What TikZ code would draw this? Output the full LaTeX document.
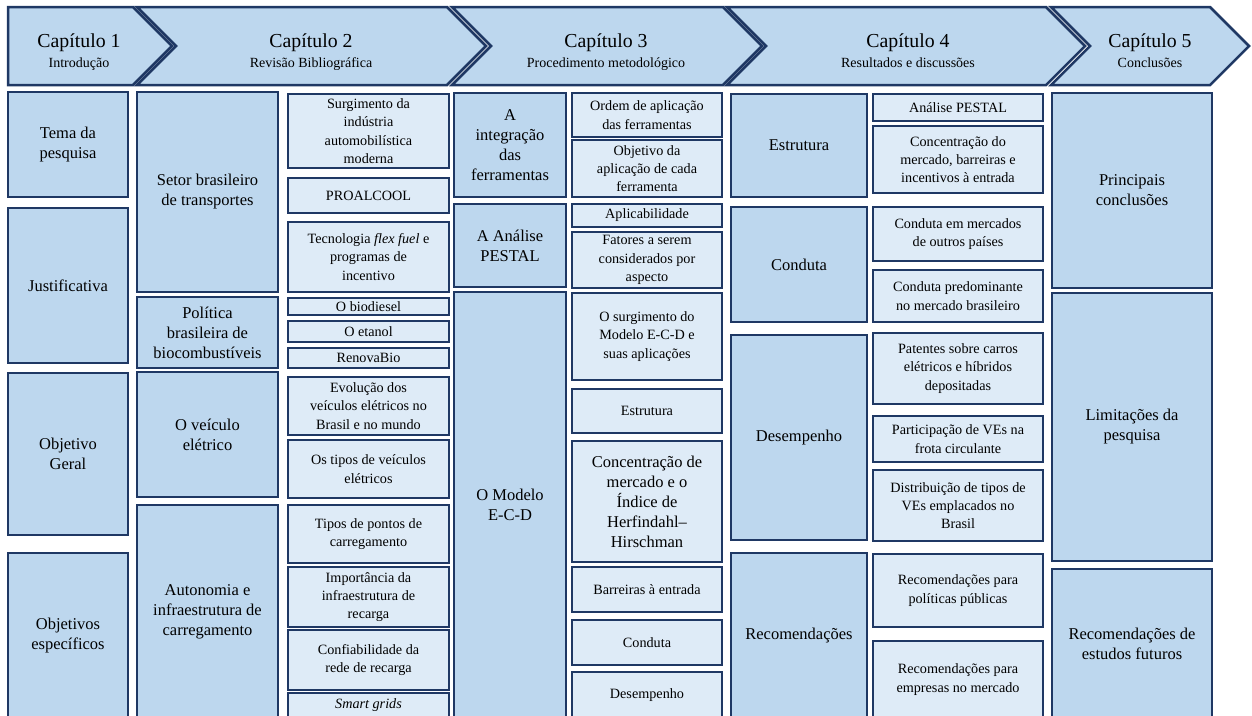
\documentclass[tikz,border=0pt]{standalone}
\usepackage{fontspec}
\setmainfont{Liberation Serif}
\usepackage{tikz}
\usetikzlibrary{positioning}
\definecolor{navy}{HTML}{1F3864}
\definecolor{bluemid}{HTML}{BDD7EE}
\definecolor{bluelight}{HTML}{DEEBF7}
\newcommand{\bigtxt}{\fontsize{16.5}{20}\selectfont}
\newcommand{\smalltxt}{\fontsize{14.2}{18.3}\selectfont}

\begin{document}
\begin{tikzpicture}[x=1pt,y=-1pt]
\tikzstyle{chap}=[draw=navy, fill=bluemid, line width=2.5pt, line join=miter]
\tikzstyle{mainbox}=[draw=navy, line width=2.6pt, inner sep=0pt, align=center]
\tikzstyle{bigbox}=[mainbox, fill=bluemid, font=\bigtxt]
\tikzstyle{subbox}=[mainbox, fill=bluelight, font=\smalltxt]
\tikzstyle{subbig}=[mainbox, fill=bluelight, font=\bigtxt]
\useasboundingbox (0,0) rectangle (1252,715);
% chapters
\foreach \i/\xa/\xb/\n/\tx/\sub in {1/8/133/0/79/Introdução, 2/137/447/39/311/Revisão Bibliográfica, 3/452/723/39/606/Procedimento metodológico, 4/727/1046/39/908/Resultados e discussões, 5/1051/1210/39/1150/Conclusões}
{
    \path[chap] (\xa,7) -- (\xb,7) -- (\xb+39,46) -- (\xb,85) -- (\xa,85) -- (\xa+\n,46) -- cycle;
    \node[anchor=base, font=\fontsize{19.8}{22}\selectfont] (c\i) at (\tx,47) {Capítulo \i};
    \node[anchor=base, font=\fontsize{14}{16}\selectfont] (s\i) at (\tx,67) {\sub};
}
% chapter 1
\foreach \n/\ya/\yb/\t in {tema/92/197/{Tema da\\pesquisa}, just/208/363/Justificativa, objg/373/535/{Objetivo\\Geral}, obje/553/718/{Objetivos\\específicos}}
    \node[bigbox, minimum width=120pt, minimum height={(\yb-\ya)*1pt}] (\n) at (68,{(\ya+\yb)/2}) {\t};
% chapter 2
\foreach \n/\ya/\yb/\t in {setor/92/292/{Setor brasileiro\\de transportes}, polit/297/368/{Política\\brasileira de\\biocombustíveis}, veic/372/497/{O veículo\\elétrico}, auton/505/718/{Autonomia e\\infraestrutura de\\carregamento}}
    \node[bigbox, minimum width=141pt, minimum height={(\yb-\ya)*1pt}] (\n) at (207.5,{(\ya+\yb)/2}) {\t};
\foreach \n/\ya/\yb/\t in {surg/94/168/{Surgimento da\\indústria\\automobilística\\moderna}, proal/178/213/PROALCOOL, flex/222/292/{Tecnologia \textit{flex fuel} e\\programas de\\incentivo}, biod/298/315/O biodiesel, etan/321/342/O etanol, renov/348/368/RenovaBio, evol/377/435/{Evolução dos\\veículos elétricos no\\Brasil e no mundo}, tipos/440/498/{Os tipos de veículos\\elétricos}, pontos/505/563/{Tipos de pontos de\\carregamento}, impor/567/627/{Importância da\\infraestrutura de\\recarga}, confi/630/690/{Confiabilidade da\\rede de recarga}, smart/693/718/{\textit{Smart grids}}}
    \node[subbox, minimum width=161pt, minimum height={(\yb-\ya)*1pt}] (\n) at (368.5,{(\ya+\yb)/2}) {\t};
% chapter 3
\foreach \n/\ya/\yb/\t in {integ/93/197/{A\\integração\\das\\ferramentas}, pestal/204/287/{A Análise\\PESTAL}, ecd/292/718/{O Modelo\\E-C-D}}
    \node[bigbox, minimum width=112pt, minimum height={(\yb-\ya)*1pt}] (\n) at (510,{(\ya+\yb)/2}) {\t};
\foreach \n/\ya/\yb/\s/\t in {ordem/93/137/subbox/{Ordem de aplicação\\das ferramentas}, objap/140/197/subbox/{Objetivo da\\aplicação de cada\\ferramenta}, aplic/204/227/subbox/Aplicabilidade, fator/232/288/subbox/{Fatores a serem\\considerados por\\aspecto}, surgm/293/380/subbox/{O surgimento do\\Modelo E-C-D e\\suas aplicações}, estr/389/433/subbox/Estrutura, conc/441/562/subbig/{Concentração de\\mercado e o\\Índice de\\Herfindahl--\\Hirschman}, barr/567/612/subbox/{Barreiras à entrada}, cond/620/665/subbox/Conduta, desem/672/718/subbox/Desempenho}
    \node[\s, minimum width=150pt, minimum height={(\yb-\ya)*1pt}] (\n) at (647,{(\ya+\yb)/2}) {\t};
% chapter 4
\foreach \n/\ya/\yb/\t in {estrut/94/197/Estrutura, condut/207/322/Conduta, desemp/335/540/Desempenho, recom/553/718/Recomendações}
    \node[bigbox, minimum width=136pt, minimum height={(\yb-\ya)*1pt}] (\n) at (799,{(\ya+\yb)/2}) {\t};
\foreach \n/\ya/\yb/\t in {apest/94/121/{Análise PESTAL}, concm/126/193/{Concentração do\\mercado, barreiras e\\incentivos à entrada}, condo/207/261/{Conduta em mercados\\de outros países}, condp/270/322/{Conduta predominante\\no mercado brasileiro}, paten/333/404/{Patentes sobre carros\\elétricos e híbridos\\depositadas}, parti/416/462/{Participação de VEs na\\frota circulante}, distr/470/541/{Distribuição de tipos de\\VEs emplacados no\\Brasil}, recpp/554/627/{Recomendações para\\políticas públicas}, recem/641/718/{Recomendações para\\empresas no mercado}}
    \node[subbox, minimum width=170pt, minimum height={(\yb-\ya)*1pt}] (\n) at (958,{(\ya+\yb)/2}) {\t};
% chapter 5
\foreach \n/\ya/\yb/\t in {princ/93/288/{Principais\\conclusões}, limit/293/561/{Limitações da\\pesquisa}, rfut/569/718/{Recomendações de\\estudos futuros}}
    \node[bigbox, minimum width=160pt, minimum height={(\yb-\ya)*1pt}] (\n) at (1132,{(\ya+\yb)/2}) {\t};
\end{tikzpicture}
\end{document}
